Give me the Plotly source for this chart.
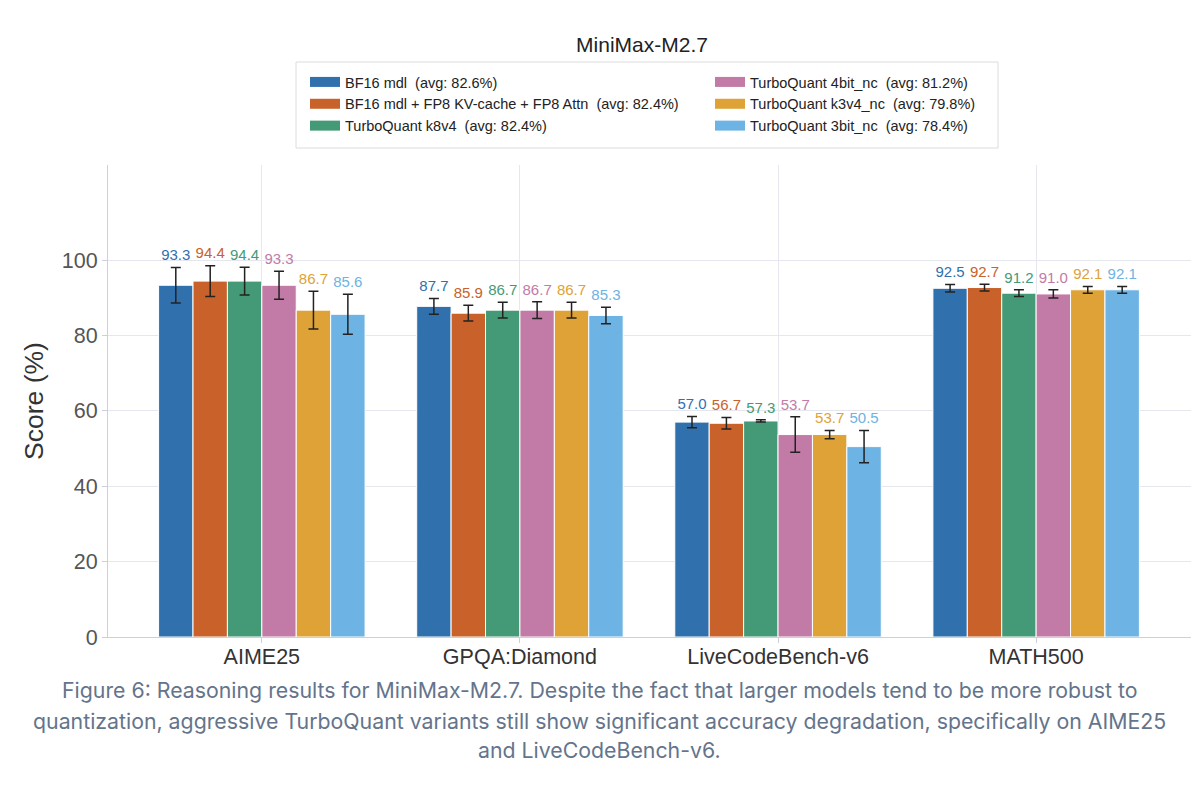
import plotly.graph_objects as go

categories = ["AIME25", "GPQA:Diamond", "LiveCodeBench-v6", "MATH500"]
series_names = [
    "BF16 mdl  (avg: 82.6%)",
    "BF16 mdl + FP8 KV-cache + FP8 Attn  (avg: 82.4%)",
    "TurboQuant k8v4  (avg: 82.4%)",
    "TurboQuant 4bit_nc  (avg: 81.2%)",
    "TurboQuant k3v4_nc  (avg: 79.8%)",
    "TurboQuant 3bit_nc  (avg: 78.4%)",
]
bf16 = [93.3, 87.7, 57.0, 92.5]
bf16_fp8 = [94.4, 85.9, 56.7, 92.7]
k8v4 = [94.4, 86.7, 57.3, 91.2]
q4bit = [93.3, 86.7, 53.7, 91.0]
k3v4 = [86.7, 86.7, 53.7, 92.1]
q3bit = [85.6, 85.3, 50.5, 92.1]

bf16_err = [4.7, 2.1, 1.5, 1.0]
bf16_fp8_err = [4.1, 2.1, 1.5, 0.9]
k8v4_err = [3.7, 2.1, 0.3, 0.9]
q4bit_err = [3.7, 2.2, 4.7, 1.1]
k3v4_err = [5.0, 2.1, 1.1, 0.9]
q3bit_err = [5.3, 2.2, 4.3, 0.9]

caption_lines = [
    "Figure 6: Reasoning results for MiniMax-M2.7. Despite the fact that larger models tend to be more robust to",
    "quantization, aggressive TurboQuant variants still show significant accuracy degradation, specifically on AIME25",
    "and LiveCodeBench-v6.",
]

values = [bf16, bf16_fp8, k8v4, q4bit, k3v4, q3bit]
errors = [bf16_err, bf16_fp8_err, k8v4_err, q4bit_err, k3v4_err, q3bit_err]
colors = ["#3070ad", "#c8622a", "#449a77", "#c27ba6", "#dea236", "#6db3e3"]
legend_ranks = [1, 3, 5, 2, 4, 6]

# page has an 8px body margin: reference pixel p -> figure pixel p - OFF
OFF = 8
W, H = 1192, 790
L, T = 108 - OFF, 165 - OFF
PLOT_R, PLOT_B = 1191 - OFF, 637 - OFF
R, B = W - PLOT_R, H - PLOT_B
PW, PH = PLOT_R - L, PLOT_B - T

def px_x(p):
    return (p - OFF - L) / PW

def px_y(p):
    return (PLOT_B - (p - OFF)) / PH

n = len(values)
group_width = 0.8
w = group_width / n
FONT = "Liberation Sans, Arial, Helvetica, sans-serif"

fig = go.Figure()
for j in range(n):
    xs = [i + (j - (n - 1) / 2) * w for i in range(len(categories))]
    fig.add_trace(go.Bar(
        x=xs, y=values[j], width=w, name=series_names[j], showlegend=False,
        marker=dict(color=colors[j], line=dict(color="white", width=1)),
        error_y=dict(type="data", array=errors[j], color="#222222", thickness=1.5, width=5),
    ))
    fig.add_trace(go.Scatter(
        x=xs, y=[v + e for v, e in zip(values[j], errors[j])],
        mode="markers+text", text=[f"{v:.1f}" for v in values[j]],
        textposition="top center", marker=dict(size=4, opacity=0),
        textfont=dict(color=colors[j], size=15, family=FONT),
        showlegend=False, hoverinfo="skip", cliponaxis=False,
    ))
    # legend entry (wide swatch)
    fig.add_trace(go.Scatter(
        x=[None], y=[None], mode="lines", name=series_names[j],
        line=dict(color=colors[j], width=10), legendrank=legend_ranks[j],
        hoverinfo="skip",
    ))

annotations = []
for k, line in enumerate(caption_lines):
    annotations.append(dict(
        text=line, xref="paper", yref="paper", x=px_x(599), y=px_y([690, 721, 750][k]),
        xanchor="center", yanchor="middle", showarrow=False,
        font=dict(family="Inter, Noto Sans, sans-serif", size=21.3, color="#64748b"),
    ))

fig.update_layout(
    width=W, height=H,
    paper_bgcolor="white", plot_bgcolor="white",
    margin=dict(l=L, r=R, t=T, b=B, autoexpand=False),
    barmode="overlay",
    font=dict(family=FONT, color="#333333"),
    title=dict(text="MiniMax-M2.7", xref="paper", x=px_x(642), xanchor="center",
               yref="container", y=1 - (45 - OFF) / H, yanchor="middle",
               font=dict(size=21, color="#222222")),
    legend=dict(
        orientation="h", x=px_x(305), xanchor="left", y=px_y(66), yanchor="top",
        entrywidth=360, entrywidthmode="pixels",
        borderwidth=0, bgcolor="rgba(0,0,0,0)",
        font=dict(size=14.5, color="#222222"),
        tracegroupgap=0,
    ),
    showlegend=True,
    shapes=[dict(
        type="rect", xref="paper", yref="paper",
        x0=px_x(296), x1=px_x(998), y0=px_y(148), y1=px_y(62),
        line=dict(color="#dcdcdc", width=1), fillcolor="rgba(0,0,0,0)", layer="below",
    )],
    xaxis=dict(
        tickmode="array", tickvals=list(range(len(categories))), ticktext=categories,
        range=[-0.596, 3.6], showgrid=True, gridcolor="#e6e6ee", gridwidth=1,
        showline=True, linecolor="#cfcfdb", linewidth=1,
        ticks="outside", ticklen=5, tickcolor="#cfcfdb", ticklabelstandoff=-5,
        tickfont=dict(size=21.5, color="#333333"), zeroline=False,
    ),
    yaxis=dict(
        range=[0, 125.2], tickvals=[0, 20, 40, 60, 80, 100],
        showgrid=True, gridcolor="#e6e6ee", gridwidth=1,
        showline=True, linecolor="#cfcfdb", linewidth=1,
        ticks="outside", ticklen=5, tickcolor="#cfcfdb",
        tickfont=dict(size=21.5, color="#555555"), zeroline=False,
        title=dict(text="Score (%)", font=dict(size=26.5, color="#333333"), standoff=10),
    ),
    annotations=annotations,
)

fig.write_html("out.html")
